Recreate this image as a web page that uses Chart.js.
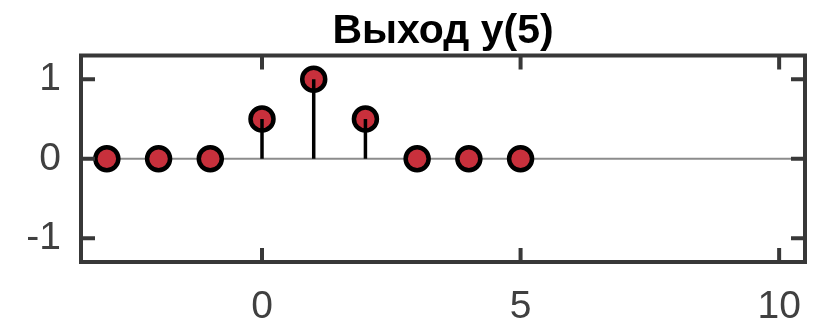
<!DOCTYPE html>
<html>
<head>
<meta charset="utf-8">
<script src="https://cdn.jsdelivr.net/npm/chart.js@4/dist/chart.umd.min.js"></script>
<style>
  html, body { margin: 0; padding: 0; background: #fff; }
  #wrap { width: 827px; height: 324px; }
</style>
</head>
<body>
<div id="wrap"><canvas id="stemChart"></canvas></div>
<script>
// Sequence samples
const n = [-3, -2, -1, 0, 1, 2, 3, 4, 5]
const y = [0, 0, 0, 0.5, 1, 0.5, 0, 0, 0]

// Axis limits and tick labels
const xLimits = [-3.5, 10.5]
const yLimits = [-1.3, 1.3]
const xTicks = [0, 5, 10]
const yTicks = [-1, 0, 1]

const titleText = 'Выход y(5)'

const points = n.map((v, i) => ({ x: v, y: y[i] }))

// Stems: 0 -> value, separated by gaps
const stems = []
n.forEach((v, i) => {
  stems.push({ x: v, y: 0 }, { x: v, y: y[i] }, { x: v, y: null })
})

const baseline = [
  { x: xLimits[0], y: 0 },
  { x: xLimits[1], y: 0 }
]

const boxColor = '#383838'
const labelColor = '#404040'
const fontFamily = 'Liberation Sans, Arial, sans-serif'

// Box around axes with inward ticks on all sides, title centred over the axes
const boxPlugin = {
  id: 'boxPlugin',
  afterDatasetsDraw(chart) {
    const { ctx, chartArea: a, scales } = chart
    const tick = 14
    ctx.save()
    ctx.strokeStyle = boxColor
    ctx.lineWidth = 4
    ctx.lineCap = 'butt'
    ctx.beginPath()
    xTicks.forEach((t) => {
      const px = scales.x.getPixelForValue(t)
      ctx.moveTo(px, a.bottom); ctx.lineTo(px, a.bottom - tick)
      ctx.moveTo(px, a.top); ctx.lineTo(px, a.top + tick)
    })
    yTicks.forEach((t) => {
      const py = scales.y.getPixelForValue(t)
      ctx.moveTo(a.left, py); ctx.lineTo(a.left + tick, py)
      ctx.moveTo(a.right, py); ctx.lineTo(a.right - tick, py)
    })
    ctx.stroke()
    ctx.strokeRect(a.left, a.top, a.right - a.left, a.bottom - a.top)

    ctx.fillStyle = '#000'
    ctx.font = 'bold 41px ' + fontFamily
    ctx.textAlign = 'center'
    ctx.textBaseline = 'alphabetic'
    ctx.fillText(titleText, (a.left + a.right) / 2, 43)
    ctx.restore()
  }
}

new Chart(document.getElementById('stemChart'), {
  type: 'scatter',
  data: {
    datasets: [
      {
        label: 'stems',
        data: stems,
        showLine: true,
        spanGaps: false,
        borderColor: '#000',
        borderWidth: 3.5,
        borderCapStyle: 'butt',
        pointRadius: 0,
        order: 0
      },
      {
        label: 'y',
        data: points,
        pointRadius: 11.5,
        pointBackgroundColor: '#c8303c',
        pointBorderColor: '#000',
        pointBorderWidth: 4.5,
        order: 1
      },
      {
        label: 'baseline',
        data: baseline,
        showLine: true,
        borderColor: '#8c8c8c',
        borderWidth: 2,
        pointRadius: 0,
        order: 2
      }
    ]
  },
  options: {
    responsive: true,
    maintainAspectRatio: false,
    animation: false,
    events: [],
    layout: { padding: { left: 0, right: 22, top: 55.5, bottom: 0 } },
    plugins: {
      legend: { display: false },
      tooltip: { enabled: false },
      title: { display: false }
    },
    scales: {
      x: {
        type: 'linear',
        min: xLimits[0],
        max: xLimits[1],
        grid: { display: false },
        border: { display: false },
        afterBuildTicks: (s) => { s.ticks = xTicks.map((v) => ({ value: v })) },
        afterFit: (s) => { s.height = 62 },
        ticks: {
          color: labelColor,
          padding: 14,
          maxRotation: 0,
          font: { family: fontFamily, size: 39 }
        }
      },
      y: {
        type: 'linear',
        min: yLimits[0],
        max: yLimits[1],
        grid: { display: false },
        border: { display: false },
        afterBuildTicks: (s) => { s.ticks = yTicks.map((v) => ({ value: v })) },
        afterFit: (s) => { s.width = 81 },
        ticks: {
          color: labelColor,
          padding: 12,
          font: { family: fontFamily, size: 39 }
        }
      }
    }
  },
  plugins: [boxPlugin]
})
</script>
</body>
</html>
